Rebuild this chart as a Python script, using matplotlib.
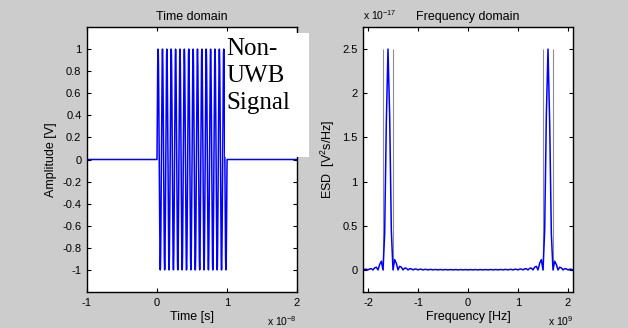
import numpy as np
import matplotlib
matplotlib.use("Agg")
import matplotlib.pyplot as plt
from matplotlib.ticker import FuncFormatter
from matplotlib.patches import Rectangle

plt.rcParams['font.family'] = ['Liberation Sans', 'DejaVu Sans']
plt.rcParams['mathtext.fontset'] = 'custom'
plt.rcParams['mathtext.rm'] = 'Liberation Sans'
plt.rcParams['mathtext.it'] = 'Liberation Sans:italic'
plt.rcParams['axes.unicode_minus'] = False

# signal description
window = [-1e-8, 2e-8]        # time axis span [s]
burst = [0.0, 1e-8]           # burst on/off [s]
carrier = 1.6e9               # carrier frequency [Hz]
amplitude = 1.0               # [V]
sample_rate = 100e9           # [Hz]
band_edges = [-1.7e9, -1.5e9, 1.5e9, 1.7e9]   # grey null-to-null markers [Hz]
peak_esd = 2.5e-17

time_ticks = [-1e-8, 0, 1e-8, 2e-8]
amp_ticks = [-1, -0.8, -0.6, -0.4, -0.2, 0, 0.2, 0.4, 0.6, 0.8, 1]
freq_ticks = [-2e9, -1e9, 0, 1e9, 2e9]
esd_ticks = [0, 0.5e-17, 1e-17, 1.5e-17, 2e-17, 2.5e-17]

n = int(round((window[1] - window[0]) * sample_rate))
dt = 1.0 / sample_rate
t = window[0] + np.arange(n + 1) * dt
sig = np.where((t >= burst[0]) & (t <= burst[1]),
               amplitude * np.sin(2 * np.pi * carrier * t), 0.0)

X = np.fft.fftshift(np.fft.fft(sig[:n])) * dt
f = np.fft.fftshift(np.fft.fftfreq(n, dt))
esd = np.abs(X) ** 2

bg = '#cccccc'
fig = plt.figure(figsize=(6.28, 3.28), dpi=100, facecolor=bg)
W, H = 628.0, 328.0
ax1 = fig.add_axes([87 / W, 1 - 292 / H, 210 / W, 265 / H])
ax2 = fig.add_axes([363 / W, 1 - 292 / H, 210 / W, 265 / H])

for ax in (ax1, ax2):
    ax.tick_params(direction='in', length=3, width=0.8, top=True, right=True,
                   labelsize=8, pad=4)
    for s in ax.spines.values():
        s.set_linewidth(1.0)

# time domain
ax1.plot(t, sig, color='#0000ff', lw=1.1)
ax1.set_xlim(window)
ax1.set_ylim(-1.2, 1.2)
ax1.set_xticks(time_ticks)
ax1.set_yticks(amp_ticks)
ax1.xaxis.set_major_formatter(FuncFormatter(lambda v, p: '%g' % round(v / 1e-8, 6)))
ax1.yaxis.set_major_formatter(FuncFormatter(lambda v, p: '%g' % round(v, 6)))
ax1.set_title('Time domain', fontsize=9, pad=5)
ax1.set_xlabel('Time [s]', fontsize=9)
ax1.set_ylabel('Amplitude [V]', fontsize=9)
ax1.xaxis.set_label_coords(0.5, -0.07)
ax1.yaxis.set_label_coords(-0.143, 0.5)

# frequency domain
ax2.vlines(band_edges, 0, peak_esd, color='#8c8c8c', lw=0.8)
ax2.plot(f, esd, color='#0000ff', lw=1.1)
ax2.set_xlim(-2.1e9, 2.1e9)
ax2.set_ylim(-0.25e-17, 2.75e-17)
ax2.set_xticks(freq_ticks)
ax2.set_yticks(esd_ticks)
ax2.xaxis.set_major_formatter(FuncFormatter(lambda v, p: '%g' % round(v / 1e9, 6)))
ax2.yaxis.set_major_formatter(FuncFormatter(lambda v, p: '%g' % round(v / 1e-17, 6)))
ax2.set_title('Frequency domain', fontsize=9, pad=5)
ax2.set_xlabel('Frequency [Hz]', fontsize=9)
ax2.set_ylabel(r'ESD  [V$^2$s/Hz]', fontsize=9)
ax2.xaxis.set_label_coords(0.5, -0.07)
ax2.yaxis.set_label_coords(-0.124, 0.5)

# MATLAB style exponent labels
fig.text(297 / W, 1 - 326 / H, r'x 10$^{-8}$', ha='right', va='baseline', fontsize=7.5)
fig.text(573 / W, 1 - 326 / H, r'x 10$^{9}$', ha='right', va='baseline', fontsize=7.5)
fig.text(363 / W, 1 - 20 / H, r'x 10$^{-17}$', ha='left', va='baseline', fontsize=7.5)

# pasted annotation box
fig.patches.append(Rectangle((225 / W, 1 - 157 / H), 84 / W, 124 / H,
                             transform=fig.transFigure, facecolor='white',
                             edgecolor='none', zorder=10))
fig.text(226 / W, 1 - 38 / H, 'Non-\nUWB\nSignal', ha='left', va='top',
         family='Liberation Serif', fontsize=18, linespacing=1.3, zorder=11)

fig.savefig('out.png', dpi=100, facecolor=bg)
